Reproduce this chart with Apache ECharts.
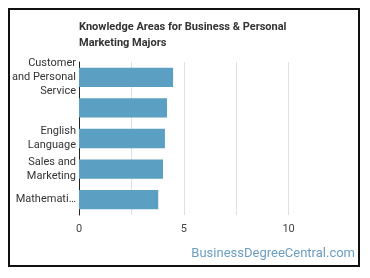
<!DOCTYPE html>
<html>
<head>
<meta charset="utf-8">
<style>html,body{margin:0;padding:0;background:#fff}#c{width:370px;height:278px}</style>
<script src="https://cdn.jsdelivr.net/npm/echarts@6/dist/echarts.min.js"></script>
</head>
<body>
<div id="c"></div>
<script>
var titleText = 'Knowledge Areas for Business & Personal\nMarketing Majors';
var categories = ['Customer\nand Personal\nService', '', 'English\nLanguage', 'Sales and\nMarketing', 'Mathematics'];
var values = [4.49, 4.2, 4.1, 4.01, 3.78];
var xTickLabels = ['0', '5', '10'];
var watermark = 'BusinessDegreeCentral.com';

var chart = echarts.init(document.getElementById('c'), null, {renderer: 'canvas'});
chart.setOption({
  animation: false,
  title: {
    text: titleText,
    left: 79, top: 19, padding: 0,
    textStyle: {fontFamily: 'Roboto', fontSize: 11, fontWeight: 'bold', color: '#333', lineHeight: 16}
  },
  grid: {left: 79, top: 62, right: 29, bottom: 63, containLabel: false},
  xAxis: {
    type: 'value', min: 0, max: 12.5, interval: 2.5,
    axisLine: {show: false}, axisTick: {show: false},
    splitLine: {show: true, showMaxLine: false, lineStyle: {color: '#e0e0e0', width: 1}},
    axisLabel: {
      margin: 9, color: '#444', fontFamily: 'Roboto', fontSize: 11,
      formatter: function (v) { var s = String(v); return xTickLabels.indexOf(s) >= 0 ? s : ''; }
    }
  },
  yAxis: {
    type: 'category', inverse: true, data: categories,
    axisLine: {show: true, lineStyle: {color: '#222', width: 1}},
    axisTick: {show: false},
    axisLabel: {margin: 3, color: '#333', fontFamily: 'Roboto', fontSize: 11, lineHeight: 14, width: 65.25, overflow: 'truncate', ellipsis: '…'}
  },
  series: [{
    type: 'bar', data: values, barWidth: '63%',
    itemStyle: {color: '#5ba0c2'}
  }],
  graphic: [
    {type: 'rect', shape: {x: 9, y: 9, width: 350, height: 257}, style: {fill: 'none', stroke: '#111', lineWidth: 2}, z: 100},
    {type: 'text', right: 15, top: 247, style: {text: watermark, fill: '#6b9dc0', font: '13px Roboto'}}
  ]
});
</script>
</body>
</html>
